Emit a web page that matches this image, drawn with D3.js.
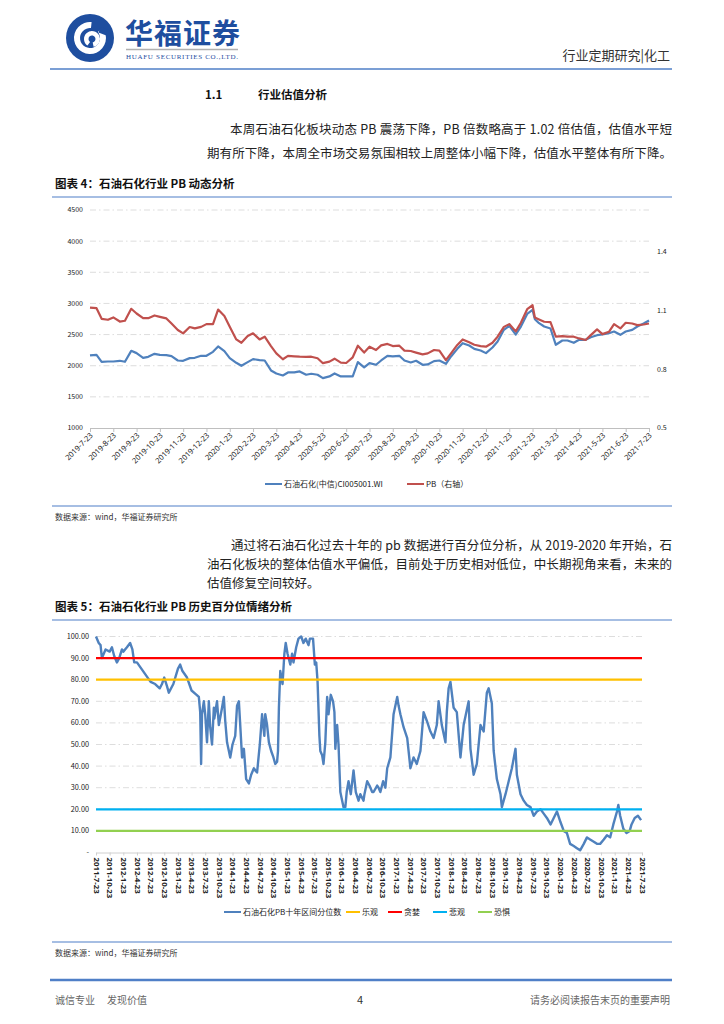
<!DOCTYPE html>
<html>
<head>
<meta charset="utf-8">
<script src="https://cdn.jsdelivr.net/npm/d3@7"></script>
<style>
  body { margin: 0; background: #fff; }
  svg { display: block; }
  text { font-family: "Noto Sans CJK SC", "Noto Sans", sans-serif; }
</style>
</head>
<body>
<svg id="page" width="724" height="1024"></svg>
<script>
// ---- chart 4: index vs PB (months since 2019-7-23) ----
const idxMonthLabels = ['2019-7-23', '2019-8-23', '2019-9-23', '2019-10-23', '2019-11-23', '2019-12-23',
    '2020-1-23', '2020-2-23', '2020-3-23', '2020-4-23', '2020-5-23', '2020-6-23', '2020-7-23',
    '2020-8-23', '2020-9-23', '2020-10-23', '2020-11-23', '2020-12-23', '2021-1-23', '2021-2-23',
    '2021-3-23', '2021-4-23', '2021-5-23', '2021-6-23', '2021-7-23'];
const idxLeftTicks = [1000, 1500, 2000, 2500, 3000, 3500, 4000, 4500];
const idxRightTicks = [0.5, 0.8, 1.1, 1.4];

const idxMonths = [0,
    0.28, 0.5, 0.77, 1, 1.28, 1.5, 1.77, 2, 2.28, 2.5, 2.77, 3, 3.28, 3.5, 3.77, 4,
    4.28, 4.5, 4.77, 5, 5.28, 5.5, 5.77, 6, 6.28, 6.5, 6.77, 7, 7.28, 7.5, 7.77, 8,
    8.28, 8.5, 8.77, 9, 9.28, 9.5, 9.77, 10, 10.28, 10.5, 10.77, 11, 11.28, 11.5, 11.77, 12,
    12.28, 12.5, 12.77, 13, 13.28, 13.5, 13.77, 14, 14.28, 14.5, 14.77, 15, 15.28, 15.5, 15.77, 16,
    16.28, 16.5, 16.77, 17, 17.28, 17.5, 17.77, 18, 18.28, 18.5, 18.77, 19, 19.1,
    19.28, 19.5, 19.77, 20, 20.28, 20.5, 20.77, 21, 21.28, 21.5, 21.77, 22,
    22.28, 22.5, 22.77, 23, 23.28, 23.5, 23.77, 24];
const idxClose = [2165,
    2175, 2063, 2068, 2068, 2079, 2063, 2239, 2202, 2127, 2143, 2191, 2175, 2170, 2154, 2084, 2079,
    2122, 2127, 2159, 2159, 2223, 2309, 2234, 2122, 2047, 1999, 2058, 2106, 2090, 2084, 1924, 1876,
    1844, 1892, 1892, 1908, 1855, 1871, 1855, 1801, 1828, 1876, 1828, 1828, 1828, 2058, 1972, 2042,
    2015, 2084, 2159, 2149, 2159, 2084, 2052, 2079, 2015, 2020, 2074, 2084, 2031, 2149, 2271, 2362,
    2325, 2271, 2245, 2202, 2293, 2389, 2576, 2640, 2501, 2629, 2832, 2896, 2747,
    2683, 2629, 2597, 2336, 2405, 2405, 2368, 2416, 2416, 2458, 2490, 2501,
    2522, 2549, 2496, 2549, 2576, 2629, 2677, 2725];
const idxPB = [1.113,
    1.110, 1.056, 1.051, 1.063, 1.042, 1.046, 1.107, 1.083, 1.059, 1.059, 1.073, 1.066, 1.058, 1.032, 0.999, 0.982,
    1.014, 1.007, 1.015, 1.029, 1.029, 1.103, 1.070, 1.015, 0.951, 0.934, 0.968, 0.982, 0.951, 0.965, 0.917, 0.880,
    0.850, 0.867, 0.865, 0.863, 0.862, 0.863, 0.855, 0.830, 0.838, 0.853, 0.833, 0.831, 0.860, 0.919, 0.884, 0.914,
    0.897, 0.921, 0.928, 0.917, 0.919, 0.894, 0.892, 0.884, 0.875, 0.880, 0.897, 0.894, 0.846, 0.880, 0.923, 0.951,
    0.936, 0.924, 0.917, 0.914, 0.934, 0.965, 1.015, 1.029, 0.992, 1.036, 1.105, 1.125, 1.063,
    1.053, 1.041, 1.039, 0.965, 0.968, 0.965, 0.965, 0.956, 0.948, 0.973, 1.002, 0.978,
    0.990, 1.029, 1.007, 1.036, 1.032, 1.024, 1.027, 1.032];

// ---- chart 5: PB percentile (months since 2011-7-23) ----
const pctQuarterLabels = ['2011-7-23', '2011-10-23', '2012-1-23', '2012-4-23', '2012-7-23', '2012-10-23',
    '2013-1-23', '2013-4-23', '2013-7-23', '2013-10-23', '2014-1-23', '2014-4-23', '2014-7-23', '2014-10-23',
    '2015-1-23', '2015-4-23', '2015-7-23', '2015-10-23', '2016-1-23', '2016-4-23', '2016-7-23', '2016-10-23',
    '2017-1-23', '2017-4-23', '2017-7-23', '2017-10-23', '2018-1-23', '2018-4-23', '2018-7-23', '2018-10-23',
    '2019-1-23', '2019-4-23', '2019-7-23', '2019-10-23', '2020-1-23', '2020-4-23', '2020-7-23', '2020-10-23',
    '2021-1-23', '2021-4-23', '2021-7-23'];
const pctTicks = [0, 10, 20, 30, 40, 50, 60, 70, 80, 90, 100];

const pctMonths = [0, 0.6, 1.0, 1.3, 2.1, 3.0, 3.5, 4.0, 4.6, 5.1, 5.7, 6.0, 6.8, 7.5, 8.0, 8.4, 9.0,
    10.0, 11.0, 12.0, 13.0, 14.0, 14.5, 15.0, 15.6, 16.0, 17.0, 18.0, 18.5, 19.0, 20.0, 21.0, 22.1, 22.6,
    22.9, 23.1, 23.3, 23.7, 24.0, 24.4, 24.8, 25.1, 25.5, 25.9, 26.0, 26.6, 27.0, 27.7, 28.1, 28.4, 28.8,
    29.1, 29.5, 30.0, 30.6, 31.0, 31.4, 31.7, 32.1, 32.5, 33.0, 33.6, 34.1, 34.7, 35.0, 35.4, 36.0, 36.5,
    37.0, 37.2, 37.6, 38.0, 38.5, 39.0, 39.4, 39.8, 40.0, 40.2, 40.5, 41.0, 41.4, 41.7, 42.1, 42.7, 43.1,
    43.4, 44.0, 44.5, 45.1, 45.6, 46.1, 46.7, 47.0, 47.7, 48.1, 48.4, 48.7, 49.1, 49.3, 49.7, 50.0, 50.4,
    50.8, 51.1, 51.6, 52.1, 52.4, 52.6, 53.0, 53.3, 53.7, 54.1, 54.4, 54.8, 55.1, 55.5, 56.0, 56.6, 57.1,
    57.7, 58.1, 58.8, 59.0, 59.6, 60.1, 60.7, 61.0, 61.8, 62.1, 62.5, 63.1, 63.6, 64.0, 64.7, 65.4, 66.2,
    66.5, 66.9, 67.6, 68.4, 69.1, 69.8, 70.5, 71.3, 72.0, 72.7, 73.5, 74.2, 74.9, 75.3, 76.0, 76.8, 77.1,
    77.5, 77.9, 78.6, 79.3, 80.1, 80.8, 81.9, 82.3, 83.0, 83.7, 84.5, 85.2, 85.9, 86.3, 87.0, 87.4, 88.1,
    88.9, 89.2, 90.0, 90.7, 91.4, 92.2, 92.5, 93.3, 94.0, 94.7, 95.5, 96.2, 96.9, 97.7, 98.4, 99.1, 99.9,
    100.6, 101.3, 102.1, 102.8, 103.5, 104.2, 105.0, 105.7, 106.4, 107.2, 107.9, 108.6, 109.4, 110.1,
    110.8, 111.6, 112.3, 113.0, 113.7, 114.5, 114.8, 115.2, 115.9, 116.6, 117.3, 117.7, 118.4, 119.1, 119.8];
const pctValues = [100, 97, 96, 90, 94, 93, 95, 91, 88, 90, 94, 93, 95, 97, 94, 88, 88,
    85, 82, 79, 78, 76, 78, 81, 77, 74, 78, 85, 87, 84, 81, 75, 73, 72,
    65, 41, 64, 70, 64, 51, 70, 58, 50, 67, 62, 70, 59, 67, 72, 61, 51,
    48, 44, 50, 54, 68, 70, 59, 44, 48, 34, 32, 36, 39, 38, 37, 50, 64,
    54, 64, 59, 51, 47, 44, 41, 42, 47, 67, 84, 78, 92, 97, 92, 87, 92,
    88, 95, 99, 100, 97, 99, 96, 99, 99, 87, 88, 79, 54, 47, 45, 41, 51,
    72, 64, 73, 70, 65, 48, 59, 50, 28, 24, 21, 21, 28, 33, 27, 38, 28,
    24, 27, 24, 27, 33, 31, 28, 28, 31, 30, 28, 33, 30, 39, 44, 64, 72,
    68, 64, 58, 53, 39, 44, 41, 47, 65, 61, 56, 53, 59, 70, 59, 51, 65,
    76, 79, 67, 65, 44, 59, 70, 48, 36, 41, 59, 56, 74, 76, 69, 47, 34,
    27, 21, 27, 33, 39, 48, 36, 27, 24, 22, 21, 17, 19, 20, 18, 16, 13,
    16, 19, 14, 10, 9, 4, 3, 2, 1, 4, 7, 6, 5, 4,
    4, 6, 8, 7, 13, 19, 22, 17, 11, 9, 10, 13, 16, 17, 15];

const levelNames = ['乐观', '贪婪', '悲观', '恐惧'];
const levelValues = [80, 90, 20, 10];
const levelColors = ['#FFC000', '#FF0000', '#00B0F0', '#92D050'];

const BLUE = '#4F81BD';
const RED = '#C0504D';
const RULE = '#4F7FC7';

const svg = d3.select('#page');
svg.append('rect').attr('width', 724).attr('height', 1024).attr('fill', '#fff');

// ---------- page header ----------
const logo = svg.append('g').attr('transform', 'translate(90,38)');
logo.append('circle').attr('r', 24).attr('fill', '#1E4E9F');
logo.append('path')
    .attr('d', d3.arc()({ innerRadius: 10, outerRadius: 16, startAngle: 0.9, endAngle: Math.PI * 2 + 0.1 }))
    .attr('fill', '#fff');
logo.append('path')
    .attr('d', d3.arc()({ innerRadius: 3.5, outerRadius: 8, startAngle: Math.PI + 0.6, endAngle: Math.PI * 3 - 0.2 }))
    .attr('fill', '#fff')
    .attr('transform', 'translate(2,1)');
logo.append('rect').attr('x', 6).attr('y', -14).attr('width', 12).attr('height', 6)
    .attr('fill', '#1E4E9F').attr('transform', 'rotate(20)');

svg.append('text').attr('x', 125).attr('y', 44).text('华福证券')
    .attr('font-size', 28).attr('font-weight', 700).attr('fill', '#1E4E9F').attr('letter-spacing', 1);
svg.append('line').attr('x1', 126).attr('x2', 238).attr('y1', 49.5).attr('y2', 49.5)
    .attr('stroke', '#b0b0b0').attr('stroke-width', 1.5);
svg.append('text').attr('x', 126).attr('y', 59).text('HUAFU SECURITIES CO.,LTD.')
    .attr('font-size', 7).attr('fill', '#1E4E9F')
    .style('font-family', '"Liberation Serif", serif').attr('textLength', 112);
svg.append('text').attr('x', 670).attr('y', 60).attr('text-anchor', 'end').text('行业定期研究|化工')
    .attr('font-size', 13).attr('fill', '#333');
svg.append('line').attr('x1', 50).attr('x2', 672).attr('y1', 69).attr('y2', 69)
    .attr('stroke', RULE).attr('stroke-width', 1.6);

// ---------- body text ----------
function bodyLine(x, y, str, width) {
    const t = svg.append('text').attr('x', x).attr('y', y).text(str)
        .attr('font-size', 12.5).attr('fill', '#222');
    if (width) t.attr('textLength', width).attr('lengthAdjust', 'spacing');
}

svg.append('text').attr('x', 205).attr('y', 99).text('1.1')
    .attr('font-size', 11.5).attr('font-weight', 700).attr('fill', '#111');
svg.append('text').attr('x', 258).attr('y', 99).text('行业估值分析')
    .attr('font-size', 11.5).attr('font-weight', 700).attr('fill', '#111');

bodyLine(230, 134, '本周石油石化板块动态 PB 震荡下降，PB 倍数略高于 1.02 倍估值，估值水平短', 442);
bodyLine(207, 158, '期有所下降，本周全市场交易氛围相较上周整体小幅下降，估值水平整体有所下降。', 465);

function figTitle(y, str) {
    svg.append('text').attr('x', 55).attr('y', y).text(str)
        .attr('font-size', 11.5).attr('font-weight', 700).attr('fill', '#111');
    svg.append('line').attr('x1', 52).attr('x2', 672).attr('y1', y + 9).attr('y2', y + 9)
        .attr('stroke', RULE).attr('stroke-width', 1.2);
}
function sourceNote(y) {
    svg.append('line').attr('x1', 52).attr('x2', 672).attr('y1', y - 14).attr('y2', y - 14)
        .attr('stroke', RULE).attr('stroke-width', 1.2);
    svg.append('text').attr('x', 55).attr('y', y).text('数据来源：wind，华福证券研究所')
        .attr('font-size', 8).attr('fill', '#333');
}

figTitle(188, '图表 4：石油石化行业 PB 动态分析');
sourceNote(520);

bodyLine(231, 550, '通过将石油石化过去十年的 pb 数据进行百分位分析，从 2019-2020 年开始，石', 441);
bodyLine(207, 569, '油石化板块的整体估值水平偏低，目前处于历史相对低位，中长期视角来看，未来的', 465);
bodyLine(207, 588, '估值修复空间较好。');

figTitle(611, '图表 5：石油石化行业 PB 历史百分位情绪分析');
sourceNote(956);

// ---------- chart 4 ----------
const c1 = { left: 90, right: 649, top: 210, bottom: 428 };
const x1 = d3.scaleLinear().domain([0, 24]).range([c1.left, c1.right]);
const yL = d3.scaleLinear().domain([1000, 4500]).range([c1.bottom, c1.top]);
const yR = d3.scaleLinear().domain([0.5, 1.61]).range([c1.bottom, c1.top]);
const g1 = svg.append('g');

g1.selectAll('line.grid')
    .data(idxLeftTicks.filter(v => v > 1000))
    .join('line')
    .attr('class', 'grid')
    .attr('x1', c1.left).attr('x2', c1.right)
    .attr('y1', d => yL(d)).attr('y2', d => yL(d))
    .attr('stroke', '#d4d4d4').attr('stroke-width', 0.8).attr('stroke-dasharray', '6,3,1.5,3');

g1.selectAll('text.yl')
    .data(idxLeftTicks)
    .join('text')
    .attr('class', 'yl')
    .attr('x', 83).attr('y', d => yL(d)).attr('dy', '0.35em')
    .attr('text-anchor', 'end').attr('font-size', 7).attr('fill', '#222')
    .text(d => d);

g1.selectAll('text.yr')
    .data(idxRightTicks)
    .join('text')
    .attr('class', 'yr')
    .attr('x', 657).attr('y', d => yR(d)).attr('dy', '0.35em')
    .attr('font-size', 7).attr('fill', '#222')
    .text(d => d.toFixed(1));

const ax1 = g1.append('g')
    .attr('transform', `translate(0,${c1.bottom})`)
    .call(d3.axisBottom(x1).tickValues(d3.range(idxMonthLabels.length)).tickSize(4).tickSizeOuter(0)
        .tickFormat(i => idxMonthLabels[i]));
ax1.select('.domain').attr('stroke', '#bfbfbf');
ax1.selectAll('.tick line').attr('stroke', '#bfbfbf');
ax1.selectAll('.tick text')
    .attr('x', 0).attr('y', 0).attr('dy', '0.35em')
    .attr('transform', 'translate(1,6) rotate(-45)')
    .attr('text-anchor', 'end')
    .attr('font-size', 7.6).attr('fill', '#222')
    .style('font-family', '"Noto Sans", sans-serif');

const idxRows = idxMonths.map((m, i) => ({ m, close: idxClose[i], pb: idxPB[i] }));

g1.append('path')
    .datum(idxRows)
    .attr('fill', 'none').attr('stroke', BLUE).attr('stroke-width', 2.2).attr('stroke-linejoin', 'round')
    .attr('d', d3.line().x(d => x1(d.m)).y(d => yL(d.close)));

g1.append('path')
    .datum(idxRows)
    .attr('fill', 'none').attr('stroke', RED).attr('stroke-width', 2.2).attr('stroke-linejoin', 'round')
    .attr('d', d3.line().x(d => x1(d.m)).y(d => yR(d.pb)));

// legend 4
const leg1 = [
    { name: '石油石化(中信)CI005001.WI', color: BLUE, x: 265 },
    { name: 'PB（右轴）', color: RED, x: 407 }
];
const l1 = g1.selectAll('g.leg').data(leg1).join('g').attr('class', 'leg')
    .attr('transform', d => `translate(${d.x},484)`);
l1.append('line').attr('x1', 0).attr('x2', 17).attr('stroke', d => d.color).attr('stroke-width', 2);
l1.append('text').attr('x', 19).attr('dy', '0.35em').attr('font-size', 8).attr('fill', '#222')
    .text(d => d.name);

// ---------- chart 5 ----------
const c2 = { left: 96, right: 642, top: 636.5, bottom: 852.5 };
const x2 = d3.scaleLinear().domain([0, 120]).range([c2.left, c2.right]);
const y2 = d3.scaleLinear().domain([0, 100]).range([c2.bottom, c2.top]);
const g2 = svg.append('g');

g2.selectAll('line.grid')
    .data(pctTicks.filter(v => v > 0))
    .join('line')
    .attr('class', 'grid')
    .attr('x1', c2.left).attr('x2', c2.right)
    .attr('y1', d => y2(d)).attr('y2', d => y2(d))
    .attr('stroke', '#d4d4d4').attr('stroke-width', 0.8).attr('stroke-dasharray', '6,3,1.5,3');

g2.selectAll('text.yl')
    .data(pctTicks)
    .join('text')
    .attr('class', 'yl')
    .attr('x', 89).attr('y', d => y2(d)).attr('dy', '0.35em')
    .attr('text-anchor', 'end').attr('font-size', 7.3).attr('fill', '#222')
    .text(d => (d === 0 ? '-' : d.toFixed(2)));

const ax2 = g2.append('g')
    .attr('transform', `translate(0,${c2.bottom})`)
    .call(d3.axisBottom(x2).tickValues(d3.range(0, 121, 3)).tickSize(3).tickSizeOuter(0)
        .tickFormat(m => pctQuarterLabels[m / 3]));
ax2.select('.domain').attr('stroke', '#d0d0d0');
ax2.selectAll('.tick line').attr('stroke', '#d0d0d0');
ax2.selectAll('.tick text')
    .attr('x', 0).attr('y', 0).attr('dy', '0.35em')
    .attr('transform', 'translate(0,5) rotate(90)')
    .attr('text-anchor', 'start')
    .attr('font-size', 7.8).attr('font-weight', 700).attr('fill', '#222')
    .style('font-family', '"Noto Sans", sans-serif');

const pctRows = pctMonths.map((m, i) => ({ m, v: pctValues[i] }));
g2.append('path')
    .datum(pctRows)
    .attr('fill', 'none').attr('stroke', BLUE).attr('stroke-width', 2.4).attr('stroke-linejoin', 'round')
    .attr('d', d3.line().x(d => x2(d.m)).y(d => y2(d.v)));

g2.selectAll('line.level')
    .data(levelValues)
    .join('line')
    .attr('class', 'level')
    .attr('x1', c2.left).attr('x2', c2.right)
    .attr('y1', d => y2(d)).attr('y2', d => y2(d))
    .attr('stroke', (d, i) => levelColors[i]).attr('stroke-width', 2.2);

// legend 5
const leg2 = [{ name: '石油石化PB十年区间分位数', color: BLUE, x: 224 }]
    .concat(levelNames.map((n, i) => ({ name: n, color: levelColors[i], x: [346, 388, 433, 478][i] })));
const l2 = g2.selectAll('g.leg').data(leg2).join('g').attr('class', 'leg')
    .attr('transform', d => `translate(${d.x},912)`);
l2.append('line').attr('x1', 0).attr('x2', d => (d.x === 224 ? 17 : 14))
    .attr('stroke', d => d.color).attr('stroke-width', 2);
l2.append('text').attr('x', d => (d.x === 224 ? 19 : 16)).attr('dy', '0.35em')
    .attr('font-size', 8).attr('fill', '#222').text(d => d.name);

// ---------- footer ----------
svg.append('line').attr('x1', 50).attr('x2', 672).attr('y1', 980).attr('y2', 980)
    .attr('stroke', RULE).attr('stroke-width', 2.4);
svg.append('text').attr('x', 55).attr('y', 1004).text('诚信专业')
    .attr('font-size', 10).attr('fill', '#666');
svg.append('text').attr('x', 107).attr('y', 1004).text('发现价值')
    .attr('font-size', 10).attr('fill', '#666');
svg.append('text').attr('x', 360).attr('y', 1004).attr('text-anchor', 'middle').text('4')
    .attr('font-size', 11).attr('fill', '#333');
svg.append('text').attr('x', 670).attr('y', 1004).attr('text-anchor', 'end').text('请务必阅读报告末页的重要声明')
    .attr('font-size', 10).attr('fill', '#666');
</script>
</body>
</html>
